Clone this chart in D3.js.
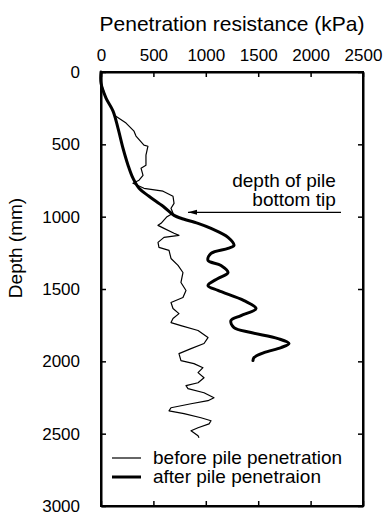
<!DOCTYPE html>
<html>
<head>
<meta charset="utf-8">
<script src="https://cdn.jsdelivr.net/npm/d3@7"></script>
<style>
  body { margin: 0; background: #fff; overflow: hidden; }
  svg { display: block; }
  text { font-family: "Liberation Sans", Arial, sans-serif; fill: #000; }
</style>
</head>
<body>
<script>
// before pile penetration (thin line)
var beforeDepth = [0, 76, 180, 270, 298, 353, 409, 443, 506, 513, 575, 644, 665, 714, 748, 769, 804, 824, 859, 908, 942, 977, 1000, 1046, 1060, 1081, 1115, 1129, 1143, 1178, 1212, 1233, 1289, 1337, 1386, 1455, 1510, 1559, 1593, 1635, 1670, 1704, 1732, 1753, 1787, 1836, 1877, 1912, 1947, 1995, 2016, 2044, 2078, 2113, 2148, 2168, 2189, 2217, 2252, 2272, 2293, 2321, 2342, 2362, 2390, 2411, 2432, 2459, 2480, 2515, 2529];
var beforeKpa = [0, 0, 48, 115, 124, 239, 315, 334, 410, 448, 429, 429, 382, 401, 363, 305, 410, 592, 687, 697, 668, 687, 630, 573, 544, 601, 697, 744, 601, 544, 553, 649, 668, 735, 782, 763, 811, 782, 668, 687, 744, 687, 668, 763, 926, 1021, 983, 859, 744, 763, 887, 973, 926, 983, 926, 811, 830, 983, 1078, 1021, 859, 668, 649, 792, 954, 1050, 1031, 926, 859, 926, 935];

// after pile penetration (thick line)
var afterDepth = [0, 76, 180, 270, 388, 527, 644, 734, 804, 859, 928, 991, 1011, 1046, 1081, 1143, 1199, 1219, 1254, 1302, 1337, 1386, 1427, 1476, 1510, 1580, 1635, 1684, 1718, 1767, 1801, 1843, 1877, 1905, 1940, 1974, 1995];
var afterKpa = [0, 0, 48, 115, 162, 210, 258, 305, 363, 458, 592, 697, 763, 926, 1050, 1212, 1269, 1212, 1050, 1021, 1145, 1212, 1116, 1021, 1116, 1365, 1479, 1336, 1240, 1269, 1431, 1689, 1794, 1718, 1555, 1460, 1450];

var xTicks = [0, 500, 1000, 1500, 2000, 2500];
var yTicks = [0, 500, 1000, 1500, 2000, 2500, 3000];

var width = 384, height = 516;

var x = d3.scaleLinear().domain([0, 2500]).range([101, 363]);
var y = d3.scaleLinear().domain([0, 3000]).range([72, 506]);

var svg = d3.select("body").append("svg")
	.attr("width", width)
	.attr("height", height);

// plot frame
svg.append("rect")
	.attr("x", x(0))
	.attr("y", y(0))
	.attr("width", x(2500) - x(0))
	.attr("height", y(3000) - y(0))
	.attr("fill", "none")
	.attr("stroke", "black")
	.attr("stroke-width", 2);

// axes, ticks pointing inward
var fmt = d3.format("d");
svg.append("g")
	.attr("class", "ax")
	.attr("transform", "translate(0," + y(0) + ")")
	.call(d3.axisTop(x).tickValues(xTicks).tickSizeInner(-5).tickSizeOuter(0).tickPadding(11).tickFormat(fmt));
svg.append("g")
	.attr("class", "ax")
	.attr("transform", "translate(0," + y(3000) + ")")
	.call(d3.axisBottom(x).tickValues(xTicks).tickSizeInner(-5).tickSizeOuter(0).tickFormat(""));
svg.append("g")
	.attr("class", "ax")
	.attr("transform", "translate(" + x(0) + ",0)")
	.call(d3.axisLeft(y).tickValues(yTicks).tickSizeInner(-5).tickSizeOuter(0).tickPadding(21).tickFormat(fmt));
svg.append("g")
	.attr("class", "ax")
	.attr("transform", "translate(" + x(2500) + ",0)")
	.call(d3.axisRight(y).tickValues(yTicks).tickSizeInner(-5).tickSizeOuter(0).tickFormat(""));

svg.selectAll(".ax .domain").attr("stroke", "black").attr("stroke-width", 2);
svg.selectAll(".ax .tick line").attr("stroke", "black").attr("stroke-width", 1.5);
svg.selectAll(".ax .tick text")
	.attr("font-family", "'Liberation Sans', Arial, sans-serif")
	.attr("font-size", 17)
	.attr("fill", "#000");

// axis titles
svg.append("text")
	.attr("x", 232)
	.attr("y", 31)
	.attr("text-anchor", "middle")
	.attr("font-size", 21)
	.text("Penetration resistance (kPa)");

svg.append("text")
	.attr("transform", "translate(22,248) rotate(-90)")
	.attr("text-anchor", "middle")
	.attr("font-size", 19)
	.text("Depth (mm)");

// data lines
var lineBefore = d3.line()
	.x(function(d, i) { return x(beforeKpa[i]); })
	.y(function(d) { return y(d); });
var lineAfter = d3.line()
	.curve(d3.curveCatmullRom)
	.x(function(d, i) { return x(afterKpa[i]); })
	.y(function(d) { return y(d); });

svg.append("path")
	.attr("d", lineBefore(beforeDepth))
	.attr("fill", "none")
	.attr("stroke", "#000")
	.attr("stroke-width", 1.2)
	.attr("stroke-linejoin", "round");

svg.append("path")
	.attr("d", lineAfter(afterDepth))
	.attr("fill", "none")
	.attr("stroke", "#000")
	.attr("stroke-width", 3)
	.attr("stroke-linejoin", "round")
	.attr("stroke-linecap", "round");

// annotation: depth of pile bottom tip
svg.append("line")
	.attr("x1", x(830)).attr("y1", y(970))
	.attr("x2", x(2290)).attr("y2", y(970))
	.attr("stroke", "#000")
	.attr("stroke-width", 1.2);
svg.append("path")
	.attr("d", d3.line()([[x(830), y(970)], [x(830) + 9, y(970) - 2.5], [x(830) + 9, y(970) + 2.5]]) + "Z")
	.attr("fill", "#000");

svg.append("text")
	.attr("x", x(2240)).attr("y", 187)
	.attr("text-anchor", "end")
	.attr("font-size", 19)
	.text("depth of pile");
svg.append("text")
	.attr("x", x(2240)).attr("y", 206)
	.attr("text-anchor", "end")
	.attr("font-size", 19)
	.text("bottom tip");

// legend
var legend = [
	{ label: "before pile penetration", w: 1.2 },
	{ label: "after pile penetraion", w: 3 }
];
var lg = svg.selectAll(".legend")
	.data(legend)
	.enter().append("g")
	.attr("class", "legend")
	.attr("transform", function(d, i) { return "translate(112," + (458 + i * 19) + ")"; });

lg.append("line")
	.attr("x1", 0).attr("x2", 29)
	.attr("stroke", "#000")
	.attr("stroke-width", function(d) { return d.w; });

lg.append("text")
	.attr("x", 41)
	.attr("y", 6)
	.attr("font-size", 19)
	.text(function(d) { return d.label; });
</script>
</body>
</html>
